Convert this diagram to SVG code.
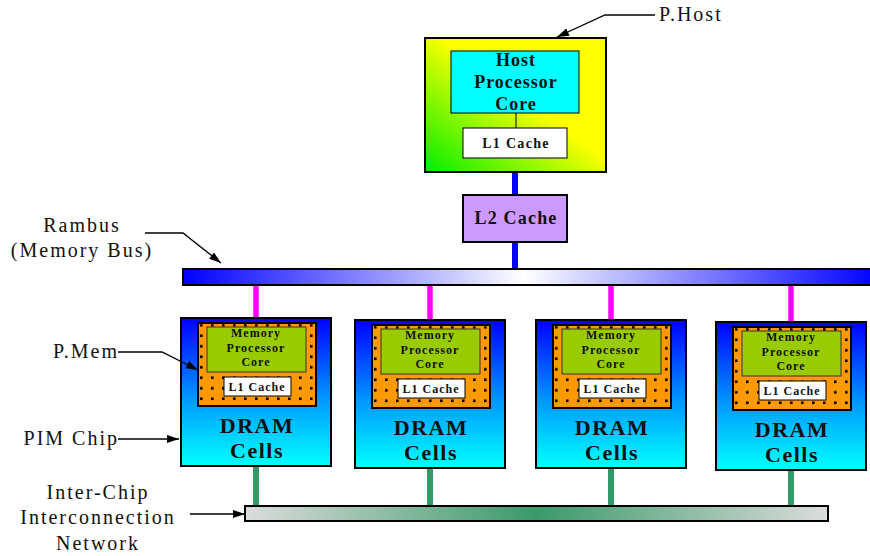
<svg xmlns="http://www.w3.org/2000/svg" width="870" height="556" viewBox="0 0 870 556">
<style>
.lbl{font-family:"Liberation Serif","Times New Roman",serif;font-size:20px;letter-spacing:2px;fill:#111}
.b{font-family:"Liberation Serif","Times New Roman",serif;font-weight:bold;fill:#111}
.ln{fill:none;stroke:#000;stroke-width:1.3}
.box{stroke:#000;stroke-width:2}
</style>
<defs>
<linearGradient id="gHost" x1="0" y1="1" x2="1" y2="0">
<stop offset="0" stop-color="#00ee00"/>
<stop offset="0.55" stop-color="#ffff00"/>
<stop offset="1" stop-color="#ffff00"/>
</linearGradient>
<linearGradient id="gChip" x1="0" y1="0" x2="0" y2="1">
<stop offset="0" stop-color="#0000ff"/>
<stop offset="0.55" stop-color="#0099ff"/>
<stop offset="1" stop-color="#00ffff"/>
</linearGradient>
<linearGradient id="gBus" x1="0" y1="0" x2="1" y2="0">
<stop offset="0" stop-color="#0000ff"/>
<stop offset="0.49" stop-color="#ffffff"/>
<stop offset="1" stop-color="#0000ff"/>
</linearGradient>
<linearGradient id="gNet" x1="0" y1="0" x2="1" y2="0">
<stop offset="0" stop-color="#dcdcdc"/>
<stop offset="0.5" stop-color="#3a9a6a"/>
<stop offset="1" stop-color="#dcdcdc"/>
</linearGradient>
<pattern id="dots" patternUnits="userSpaceOnUse" x="0" y="0" width="11" height="10.5">
<rect width="11" height="10.5" fill="#ff9900"/>
<rect x="8" y="6" width="2.6" height="2.6" fill="#000"/>
</pattern>
<marker id="ah" viewBox="0 0 12 8" refX="12" refY="4" markerWidth="12" markerHeight="8" markerUnits="userSpaceOnUse" orient="auto">
<path d="M0,0 L12,4 L0,8 Z" fill="#000"/>
</marker>
<g id="chipTpl">
<rect class="box" x="0" y="0" width="150" height="148" fill="url(#gChip)"/>
<rect class="box" x="17" y="5" width="118" height="83" fill="url(#dots)"/>
<rect x="26" y="9" width="99" height="45" fill="#99cc00" stroke="#333" stroke-width="1"/>
<rect x="43" y="59" width="67" height="19" fill="#fff" stroke="#000" stroke-width="1"/>
<text class="b" x="75" y="19" font-size="12" letter-spacing="1" text-anchor="middle">Memory</text>
<text class="b" x="75" y="34" font-size="12" letter-spacing="1" text-anchor="middle">Processor</text>
<text class="b" x="75" y="48" font-size="12" letter-spacing="1" text-anchor="middle">Core</text>
<text class="b" x="76" y="73" font-size="12" letter-spacing="1" text-anchor="middle">L1 Cache</text>
<text class="b" x="76" y="115" font-size="22" letter-spacing="1.5" text-anchor="middle">DRAM</text>
<text class="b" x="76" y="140" font-size="22" letter-spacing="1.5" text-anchor="middle">Cells</text>
</g>
</defs>
<rect width="870" height="556" fill="#fff"/>

<g id="phost">
<rect class="box" x="425" y="38" width="181" height="134" fill="url(#gHost)"/>
<rect x="451" y="51" width="128" height="62" fill="#00ffff" stroke="#000" stroke-width="1"/>
<line x1="516" y1="113" x2="516" y2="128" stroke="#000" stroke-width="1"/>
<rect x="463" y="128" width="104" height="30" fill="#fff" stroke="#000" stroke-width="1"/>
<text class="b" x="516" y="66" font-size="18" letter-spacing="1" text-anchor="middle">Host</text>
<text class="b" x="516" y="88" font-size="18" letter-spacing="1" text-anchor="middle">Processor</text>
<text class="b" x="516" y="110" font-size="18" letter-spacing="1" text-anchor="middle">Core</text>
<text class="b" x="516" y="148" font-size="14" letter-spacing="1.3" text-anchor="middle">L1 Cache</text>
</g>

<g id="l2cache">
<rect class="box" x="463" y="195" width="104" height="47" fill="#cc99ff"/>
<text class="b" x="516" y="224" font-size="18" letter-spacing="1.2" text-anchor="middle">L2 Cache</text>
</g>

<g id="bus">
<rect class="box" x="183" y="269" width="695" height="16" fill="url(#gBus)"/>
</g>

<g id="chip1"><use href="#chipTpl" transform="translate(181,318)"/></g>
<g id="chip2"><use href="#chipTpl" transform="translate(355,320)"/></g>
<g id="chip3"><use href="#chipTpl" transform="translate(536,320)"/></g>
<g id="chip4"><use href="#chipTpl" transform="translate(716,322)"/></g>

<g id="network">
<rect class="box" x="245" y="506" width="583" height="15" fill="url(#gNet)"/>
</g>

<g id="connectors">
<line x1="515" y1="173" x2="515" y2="194" stroke="#0000ff" stroke-width="6"/>
<line x1="515" y1="243" x2="515" y2="268" stroke="#0000ff" stroke-width="6"/>
<g stroke="#ff00ff" stroke-width="5.5">
<line x1="256" y1="286" x2="256" y2="317"/>
<line x1="430" y1="286" x2="430" y2="319"/>
<line x1="611" y1="286" x2="611" y2="319"/>
<line x1="791" y1="286" x2="791" y2="321"/>
</g>
<g stroke="#339966" stroke-width="6">
<line x1="256" y1="467" x2="256" y2="505"/>
<line x1="430" y1="469" x2="430" y2="505"/>
<line x1="611" y1="469" x2="611" y2="505"/>
<line x1="791" y1="471" x2="791" y2="505"/>
</g>
<path class="ln" d="M655,15 H605 L557,37" marker-end="url(#ah)"/>
<path class="ln" d="M145,233 H183 L221,263" marker-end="url(#ah)"/>
<path class="ln" d="M118,352 H162 L198,370" marker-end="url(#ah)"/>
<path class="ln" d="M118,439 H179" marker-end="url(#ah)"/>
<path class="ln" d="M190,514 H245" stroke-width="1.8" marker-end="url(#ah)"/>
</g>

<g id="labels">
<text class="lbl" x="659" y="21">P.Host</text>
<text class="lbl" x="82" y="232" text-anchor="middle">Rambus</text>
<text class="lbl" x="82" y="257" text-anchor="middle">(Memory Bus)</text>
<text class="lbl" x="119" y="358" text-anchor="end">P.Mem</text>
<text class="lbl" x="119" y="445" text-anchor="end">PIM Chip</text>
<text class="lbl" x="98" y="499" text-anchor="middle" letter-spacing="1.7">Inter-Chip</text>
<text class="lbl" x="98" y="524" text-anchor="middle" letter-spacing="1.7">Interconnection</text>
<text class="lbl" x="98" y="550" text-anchor="middle" letter-spacing="1.7">Network</text>
</g>
</svg>
